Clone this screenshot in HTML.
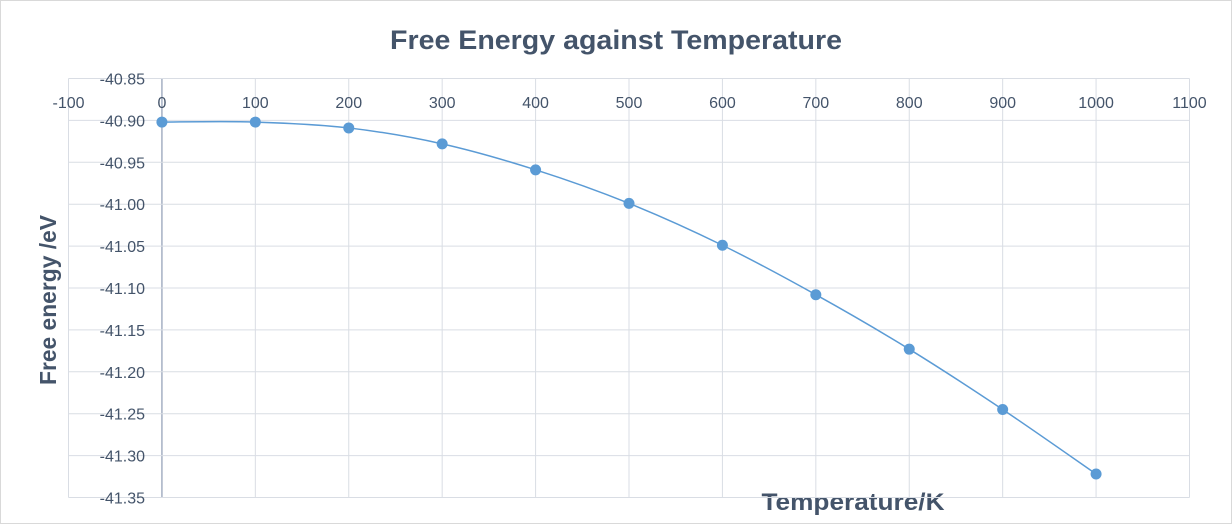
<!DOCTYPE html>
<html><head><meta charset="utf-8"><style>
html,body{margin:0;padding:0;background:#fff}
svg{display:block;font-family:"Liberation Sans",sans-serif}
</style></head><body>
<svg id="chart" width="1232" height="524">
<rect x="0.5" y="0.5" width="1231" height="523" fill="#fff" stroke="#d9d9d9"/>
<text x="616" y="49" text-anchor="middle" font-size="27" font-weight="bold" fill="#44546a" textLength="452" lengthAdjust="spacingAndGlyphs">Free Energy against Temperature</text>
<text transform="translate(56,300) rotate(-90)" text-anchor="middle" font-size="23" font-weight="bold" fill="#44546a" textLength="170" lengthAdjust="spacingAndGlyphs">Free energy /eV</text>
<text x="853" y="510" text-anchor="middle" font-size="24" font-weight="bold" fill="#44546a" textLength="183" lengthAdjust="spacingAndGlyphs">Temperature/K</text>
<g id="grid"></g><g id="labels"></g><g id="series"></g>
</svg>
<script>
const temps=[0,100,200,300,400,500,600,700,800,900,1000];
const energies=[-40.902,-40.902,-40.909,-40.928,-40.959,-40.999,-41.049,-41.108,-41.173,-41.245,-41.322];
const xTicks=[-100,0,100,200,300,400,500,600,700,800,900,1000,1100];
const yTicks=[-40.85,-40.90,-40.95,-41.00,-41.05,-41.10,-41.15,-41.20,-41.25,-41.30,-41.35];
const X0=68.5,X1=1189.5,Y0=78.5,Y1=497.5;
const sx=v=>X0+(v+100)/1200*(X1-X0);
const sy=v=>Y0+(-40.85-v)/0.5*(Y1-Y0);
const NS="http://www.w3.org/2000/svg";
function mk(t,a,p){const e=document.createElementNS(NS,t);for(const k in a)e.setAttribute(k,a[k]);p.appendChild(e);return e;}
const g=document.getElementById('grid'),lb=document.getElementById('labels'),s=document.getElementById('series');
xTicks.forEach(v=>{const x=sx(v);
const l=mk('line',{x1:x,x2:x,y1:Y0,y2:Y1,stroke:v===0?'#a5b0c3':'#d9dde4','stroke-width':v===0?1.5:1},g);


const t=mk('text',{x:x,y:108,'text-anchor':'middle','font-size':16,fill:'#44546a'},lb);t.textContent=v;

});
yTicks.forEach(v=>{const y=sy(v);
const l=mk('line',{x1:X0,x2:X1,y1:y,y2:y,stroke:'#d9dde4','stroke-width':1},g);


const t=mk('text',{x:145,y:y+6,'text-anchor':'end','font-size':16,fill:'#44546a'},lb);t.textContent=v.toFixed(2);

});
const P=temps.map((t,i)=>[sx(t),sy(energies[i])]);
let d='M'+P[0][0]+','+P[0][1];
for(let i=0;i<P.length-1;i++){const p0=P[Math.max(0,i-1)],p1=P[i],p2=P[i+1],p3=P[Math.min(P.length-1,i+2)];
const c1=[p1[0]+(p2[0]-p0[0])/6,p1[1]+(p2[1]-p0[1])/6],c2=[p2[0]-(p3[0]-p1[0])/6,p2[1]-(p3[1]-p1[1])/6];
d+=` C${c1[0]},${c1[1]} ${c2[0]},${c2[1]} ${p2[0]},${p2[1]}`;}
const path=mk('path',{d:d,fill:'none',stroke:'#5b9bd5','stroke-width':1.5},s);


P.forEach(p=>{const c=mk('circle',{cx:p[0],cy:p[1],r:5.5,fill:'#5b9bd5'},s);

});
</script>
</body></html>
